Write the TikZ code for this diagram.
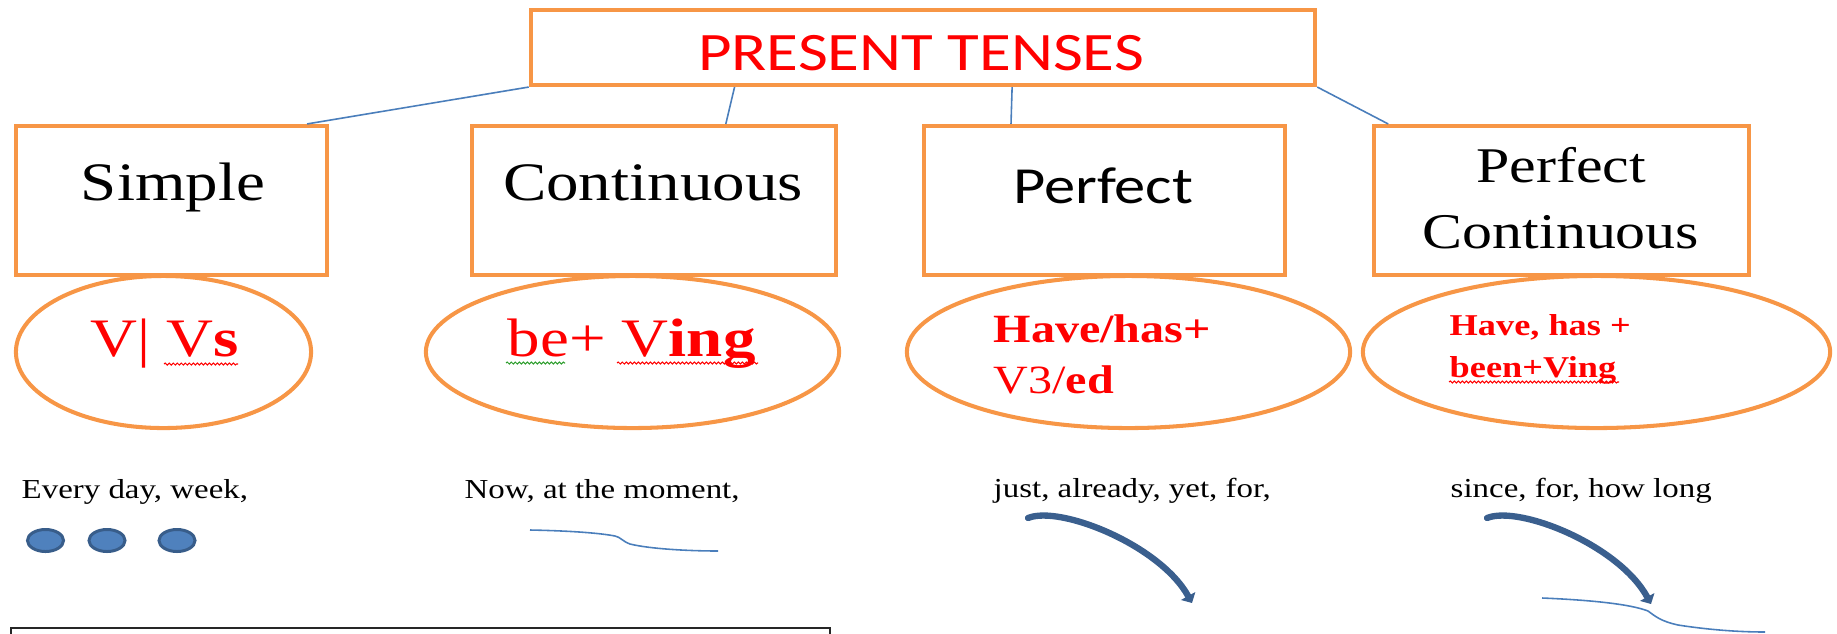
\documentclass[tikz,border=0pt]{standalone}
\usepackage{fontspec}
\setmainfont{Liberation Serif}
\newfontfamily\carl{Carlito}
\usepackage{graphicx}
\usetikzlibrary{shapes.geometric, arrows.meta, calc, decorations.pathmorphing}
\definecolor{orng}{HTML}{F79646}
\definecolor{lnk}{HTML}{4A7EBB}
\definecolor{dotf}{HTML}{4F81BD}
\definecolor{dotd}{HTML}{385D8A}
\definecolor{arw}{HTML}{3A5F8E}
\definecolor{redt}{HTML}{FF0000}
\definecolor{grn}{HTML}{2E9E2E}
\newcommand{\sx}[1]{\scalebox{1.2}[1]{#1}}
\tikzset{
  obox/.style={draw=orng, line width=1.15pt, inner sep=0pt, rectangle},
  oell/.style={draw=orng, line width=1.15pt, inner sep=0pt, ellipse},
  link/.style={draw=lnk, line width=0.45pt},
  boxtxt/.style={anchor=base, inner sep=0pt, font=\fontsize{15.4pt}{18pt}\selectfont},
  formtxt/.style={anchor=base west, inner sep=0pt, text=redt},
  lowtxt/.style={anchor=base west, inner sep=0pt, font=\fontsize{7.8pt}{9pt}\selectfont},
  dotst/.style={ellipse, fill=dotf, draw=dotd, line width=0.85pt, inner sep=0pt, minimum width=0.36cm, minimum height=0.22cm},
  thinl/.style={draw=lnk, line width=0.45pt},
  arr/.style={draw=arw, line width=1.8pt, line cap=round, -{Triangle[width=0.16cm,length=0.08cm]}},
  squig/.style={line width=0.3pt, decorate, decoration={snake, segment length=0.04cm, amplitude=0.01cm}},
}
\begin{document}
\begin{tikzpicture}[x=0.01cm, y=-0.01cm]
\useasboundingbox (0,0) rectangle (1837,633);
% boxes
\node[obox, minimum width=7.84cm, minimum height=0.75cm] (top) at (923,47.5) {};
\node[obox, minimum width=3.11cm, minimum height=1.49cm] (simple) at (171.5,200.5) {};
\node[obox, minimum width=3.64cm, minimum height=1.49cm] (cont) at (654,200.5) {};
\node[obox, minimum width=3.61cm, minimum height=1.49cm] (perf) at (1104.5,200.5) {};
\node[obox, minimum width=3.75cm, minimum height=1.49cm] (pcont) at (1561.5,200.5) {};
% box texts
\node[anchor=base, inner sep=0pt, text=redt, font=\carl\fontsize{15.4pt}{18pt}\selectfont] (title) at (921,70) {\sx{PRESENT TENSES}};
\node[boxtxt] (tsimple) at (173,200) {\sx{Simple}};
\node[boxtxt] (tcont) at (653,200) {\sx{Continuous}};
\node[boxtxt, font=\carl\fontsize{14.8pt}{18pt}\selectfont] (tperf) at (1103,203) {\sx{Perfect}};
\node[boxtxt, font=\fontsize{14.2pt}{17pt}\selectfont] (tpc1) at (1561,182) {\sx{Perfect}};
\node[boxtxt, font=\fontsize{14.2pt}{17pt}\selectfont] (tpc2) at (1561,248) {\sx{Continuous}};
% connectors
\draw[link] (top.south west) -- ($(simple.north west)!0.93!(simple.north east)$);
\draw[link] ($(top.south west)!0.261!(top.south east)$) -- ($(cont.north west)!0.695!(cont.north east)$);
\draw[link] ($(top.south west)!0.613!(top.south east)$) -- ($(perf.north west)!0.244!(perf.north east)$);
\draw[link] (top.south east) -- ($(pcont.north west)!0.043!(pcont.north east)$);
% ellipses
\node[oell, minimum width=2.95cm, minimum height=1.52cm] (e1) at (163.5,352) {};
\node[oell, minimum width=4.13cm, minimum height=1.52cm] (e2) at (632.5,352) {};
\node[oell, minimum width=4.43cm, minimum height=1.52cm] (e3) at (1128.5,352) {};
\node[oell, minimum width=4.67cm, minimum height=1.52cm] (e4) at (1596.5,352) {};
% formulas
\node[formtxt, font=\fontsize{15.4pt}{19pt}\selectfont] (f1) at (90,356) {\sx{V| V\textbf{s}}};
\node[formtxt, font=\fontsize{15.4pt}{19pt}\selectfont] (f2) at (507,356) {\sx{be+ V\textbf{ing}}};
\node[formtxt, font=\bfseries\fontsize{11.4pt}{14pt}\selectfont] (f3a) at (993,342) {\sx{Have/has+}};
\node[formtxt, font=\fontsize{11.4pt}{14pt}\selectfont] (f3b) at (993,393) {\sx{V3/\textbf{ed}}};
\node[formtxt, font=\bfseries\fontsize{8.6pt}{10pt}\selectfont] (f4a) at (1449,335) {\sx{Have, has +}};
\node[formtxt, font=\bfseries\fontsize{8.6pt}{10pt}\selectfont] (f4b) at (1449,377) {\sx{been+Ving}};
% spell-check squiggles
\draw[squig, red] (164,364) -- (238,364);
\draw[squig, grn] (506,363) -- (565,363);
\draw[squig, red] (617,363) -- (758,363);
\draw[squig, red] (1449,382) -- (1619,382);
% lower texts
\node[lowtxt] (l1) at (21,498) {\sx{Every day, week,}};
\node[lowtxt] (l2) at (464,498) {\sx{Now, at the moment,}};
\node[lowtxt] (l3) at (993,497) {\sx{just, already, yet, for,}};
\node[lowtxt] (l4) at (1450,497) {\sx{since, for, how long}};
% dots
\node[dotst] (d1) at (45.5,540.5) {};
\node[dotst] (d2) at (107,540.5) {};
\node[dotst] (d3) at (177,540.5) {};
% thin wavy lines
\coordinate (w1a) at (530,530);
\coordinate (w1b) at (718,551);
\draw[thinl] (w1a) .. controls (580,531) and (605,534) .. (615,536) .. controls (622,538) and (622,541) .. (630,544) .. controls (650,549) and (690,551) .. (w1b);
\coordinate (w2a) at (1542,598);
\coordinate (w2b) at (1765,632);
\draw[thinl] (w2a) .. controls (1590,600) and (1630,604) .. (1648,611) .. controls (1655,616) and (1660,621) .. (1678,625) .. controls (1710,630) and (1740,632) .. (w2b);
% curved arrows
\coordinate (a1s) at (1028,518);
\coordinate (a1e) at (1192,603);
\draw[arr] (a1s) .. controls (1060,505) and (1160,545) .. (a1e);
\coordinate (a2s) at (1487,518);
\coordinate (a2e) at (1651,604);
\draw[arr] (a2s) .. controls (1519,505) and (1619,545) .. (a2e);
% bottom frame (cut off)
\draw[black!85, line width=0.6pt] (11,645) -- (11,628) -- (830,628) -- (830,645);
\end{tikzpicture}
\end{document}
